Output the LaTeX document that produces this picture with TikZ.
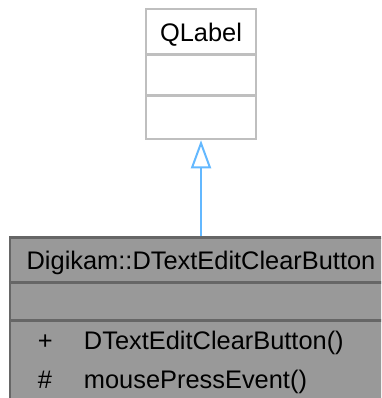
\documentclass[tikz,border=0pt]{standalone}
\usepackage{fontspec}
\setmainfont{Liberation Sans}
\usepackage{xcolor}
\usetikzlibrary{arrows.meta}
\usetikzlibrary{positioning}

\definecolor{boxgray}{HTML}{BFBFBF}
\definecolor{fillgray}{HTML}{999999}
\definecolor{edgegray}{HTML}{666666}
\definecolor{inherit}{HTML}{63B8FF}

\tikzset{
    umlclass/.style = {draw=boxgray, fill=white, line width=2.5pt, inner sep=0pt},
    umlrule/.style = {draw=boxgray, line width=2.5pt},
    classtext/.style = {anchor=base, inner sep=0pt, font=\fontsize{25.4}{30}\selectfont},
    membertext/.style = {anchor=base west, inner sep=0pt, font=\fontsize{25.4}{30}\selectfont},
}

\begin{document}
\begin{tikzpicture}[x=1pt, y=1pt]
        \useasboundingbox (0,0) rectangle (381,-398);
        \clip (0,0) rectangle (381,-398);
        % base class
        \node[umlclass, minimum width=110pt, minimum height=130pt] (qlabel) at (201,-74) {};
        \node[classtext] (qlabeltitle) at ([yshift=-34pt]qlabel.north) {QLabel};
        \draw[umlrule] ([yshift=-47pt]qlabel.north west) -- ([yshift=-47pt]qlabel.north east);
        \draw[umlrule] ([yshift=-88pt]qlabel.north west) -- ([yshift=-88pt]qlabel.north east);
        % derived class
        \node[umlclass, draw=edgegray, fill=fillgray, below=96pt of qlabel,
              minimum width=382pt, minimum height=175pt] (dtext) {};
        \node[classtext] (dtexttitle) at ([yshift=-33pt]dtext.north) {Digikam::DTextEditClearButton};
        \draw[umlrule, draw=edgegray] ([yshift=-46pt]dtext.north west) -- ([yshift=-46pt]dtext.north east);
        \draw[umlrule, draw=edgegray] ([yshift=-84pt]dtext.north west) -- ([yshift=-84pt]dtext.north east);
        \node[membertext] (ctorvis) at ([xshift=29pt, yshift=-113pt]dtext.north west) {+};
        \node[membertext] (ctor) at ([xshift=75pt, yshift=-113pt]dtext.north west) {DTextEditClearButton()};
        \node[membertext] (pressvis) at ([xshift=29pt, yshift=-152pt]dtext.north west) {\#};
        \node[membertext] (press) at ([xshift=75pt, yshift=-152pt]dtext.north west) {mousePressEvent()};
        % inheritance
        \draw[draw=inherit, line width=2pt, -{Triangle[open, length=28pt, width=20pt]}] (dtext.north) -- (qlabel.south);
\end{tikzpicture}
\end{document}
